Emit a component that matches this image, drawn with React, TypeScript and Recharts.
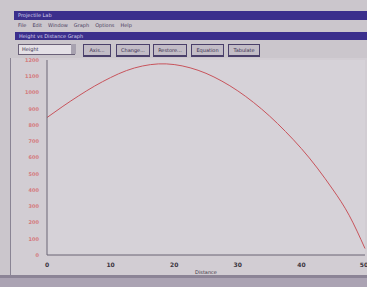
import { LineChart, Line, XAxis, YAxis, CartesianGrid } from 'recharts';

const distance = [0, 2.5, 5, 7.5, 10, 12.5, 15, 17.5, 20, 22.5, 25, 27.5, 30, 32.5, 35, 37.5, 40, 42.5, 45, 47.5, 50];
const height = [846, 915, 980, 1040, 1092, 1135, 1163, 1176, 1172, 1152, 1118, 1070, 1010, 938, 855, 760, 655, 535, 400, 245, 40];
const xTicks = [0, 10, 20, 30, 40, 50];
const yTicks = [0, 100, 200, 300, 400, 500, 600, 700, 800, 900, 1000, 1100, 1200];
const menuItems = ['File', 'Edit', 'Window', 'Graph', 'Options', 'Help'];
const buttons = ['Axis...', 'Change...', 'Restore...', 'Equation', 'Tabulate'];

const data = distance.map((d, i) => ({ distance: d, height: height[i] }));

const font = 'DejaVu Sans, sans-serif';

function Bar3d({ left, top, width, label }: { left: number; top: number; width: number; label: string }) {
  return (
    <div
      style={{
        position: 'absolute', left, top, width, height: 10,
        background: '#c2bcc6', border: '1px solid #4a3f6a',
        borderBottomWidth: 2, fontSize: 5, lineHeight: '10px',
        textAlign: 'center', color: '#3a3050', fontFamily: font,
      }}
    >
      {label}
    </div>
  );
}

export default function App() {
  return (
    <div style={{ position: 'absolute', left: 0, top: 0, width: 367, height: 287, background: '#cbc6cc', overflow: 'hidden', fontFamily: font }}>
      {/* main window title */}
      <div style={{ position: 'absolute', left: 14, top: 11, width: 353, height: 9, background: '#3b2f8c', color: '#d8d4ec', fontSize: 5, lineHeight: '9px', paddingLeft: 4 }}>
        Projectile Lab
      </div>
      <div style={{ position: 'absolute', left: 14, top: 20, width: 353, height: 11, fontSize: 5, lineHeight: '11px', color: '#4a4060', paddingLeft: 4, display: 'flex', gap: 6 }}>
        {menuItems.map((m) => <span key={m}>{m}</span>)}
      </div>
      {/* child window title */}
      <div style={{ position: 'absolute', left: 15, top: 32, width: 352, height: 8, background: '#3b2f8c', color: '#d8d4ec', fontSize: 5, lineHeight: '8px', paddingLeft: 4 }}>
        Height vs Distance Graph
      </div>
      {/* toolbar */}
      <div style={{ position: 'absolute', left: 18, top: 44, width: 52, height: 9, background: '#e4e0e6', border: '1px solid #6a6078', fontSize: 5, lineHeight: '9px', paddingLeft: 3, color: '#3a3050' }}>
        Height
      </div>
      <div style={{ position: 'absolute', left: 71, top: 44, width: 5, height: 10, background: '#a8a2b0' }} />
      <Bar3d left={83} top={44} width={26} label={buttons[0]} />
      <Bar3d left={116} top={44} width={32} label={buttons[1]} />
      <Bar3d left={153} top={44} width={32} label={buttons[2]} />
      <Bar3d left={191} top={44} width={31} label={buttons[3]} />
      <Bar3d left={228} top={44} width={30} label={buttons[4]} />
      {/* chart panel */}
      <div style={{ position: 'absolute', left: 10, top: 58, width: 357, height: 217, background: '#d2cdd3', borderLeft: '1px solid #8a8494' }} />
      <div style={{ position: 'absolute', left: 0, top: 0 }}>
        <LineChart width={367} height={287} data={data} margin={{ top: 60, right: 2, bottom: 0, left: 0 }}>
          <CartesianGrid stroke="none" fill="#d6d2d8" vertical={false} horizontal={false} />
          <XAxis
            dataKey="distance"
            type="number"
            domain={[0, 50]}
            ticks={xTicks}
            height={32}
            stroke="#6a6474"
            tickLine={false}
            tick={{ fontSize: 6, fill: '#3a3440', fontFamily: font, fontWeight: 'bold' }}
            label={{ value: 'Distance', position: 'insideBottom', offset: 13, fontSize: 5, fill: '#3a3440', fontFamily: font }}
          />
          <YAxis
            type="number"
            domain={[0, 1200]}
            ticks={yTicks}
            width={47}
            stroke="#6a6474"
            tickLine={false}
            tick={{ fontSize: 5, fill: '#d47a7e', fontFamily: font, fontWeight: 'bold' }}
          />
          <Line type="natural" dataKey="height" stroke="#c8545c" strokeWidth={1} dot={false} isAnimationActive={false} />
        </LineChart>
      </div>
      {/* status bar */}
      <div style={{ position: 'absolute', left: 0, top: 275, width: 367, height: 3, background: '#8c8496' }} />
      <div style={{ position: 'absolute', left: 0, top: 278, width: 367, height: 9, background: '#aba3b3' }} />
    </div>
  );
}
